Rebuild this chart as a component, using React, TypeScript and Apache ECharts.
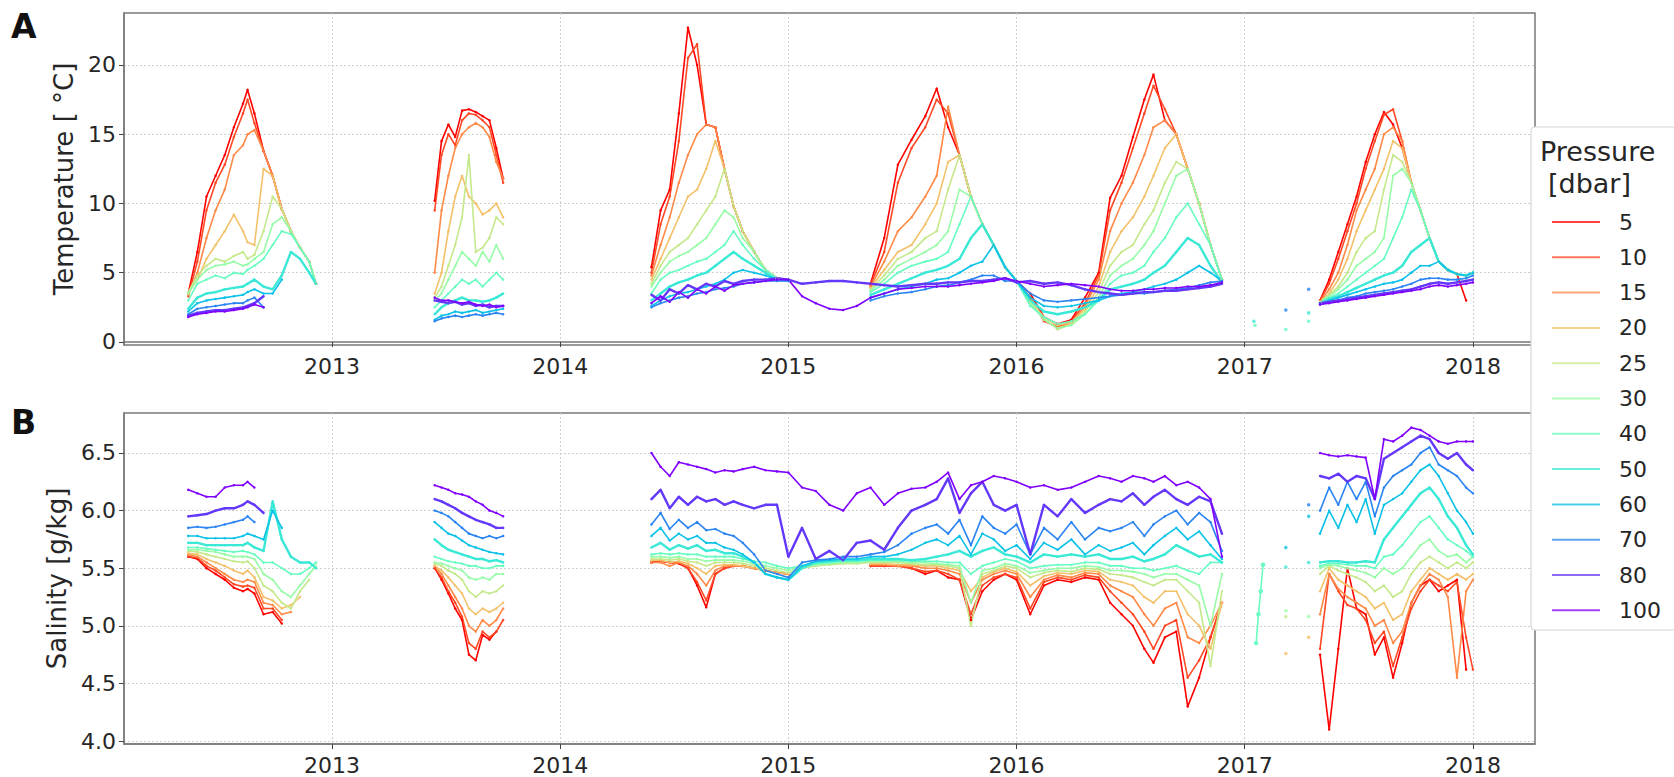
import React, { useEffect, useRef } from 'react';
import * as echarts from 'echarts';

const _ = null;
const FONT = 'DejaVu Sans, sans-serif';

const PRESSURES = ['5', '10', '15', '20', '25', '30', '40', '50', '60', '70', '80', '100'];
const COLORS = ['#ff0000', '#ff4824', '#ff8a48', '#f3c16a', '#c5e88a', '#97fca7', '#68fcc1', '#3ae8d6', '#0bc1e8', '#2a84f2', '#6438fa', '#8000ff'];
const WIDTHS = [1.6, 1.6, 1.6, 1.6, 1.6, 1.6, 1.6, 2.4, 1.6, 1.6, 2.4, 1.6];
const YEAR_TICKS = [2013, 2014, 2015, 2016, 2017, 2018];
const TEMP_TICKS = [0, 5, 10, 15, 20];
const SAL_TICKS = [4.0, 4.5, 5.0, 5.5, 6.0, 6.5];

// deployment time grids (decimal years)
const TIMES_D1 = [2012.37, 2012.41, 2012.45, 2012.49, 2012.53, 2012.57, 2012.61, 2012.63, 2012.66, 2012.70, 2012.74, 2012.78, 2012.82, 2012.86, 2012.90, 2012.93];
const TIMES_D2 = [2013.45, 2013.48, 2013.51, 2013.54, 2013.57, 2013.60, 2013.63, 2013.66, 2013.69, 2013.72, 2013.75];
const TIMES_D3 = [
  2014.40, 2014.44, 2014.48, 2014.52, 2014.56, 2014.60, 2014.64, 2014.68, 2014.72, 2014.76,
  2014.80, 2014.85, 2014.90, 2014.95, 2015.00, 2015.06, 2015.12, 2015.18, 2015.24, 2015.30,
  2015.36, 2015.42, 2015.48, 2015.54, 2015.60, 2015.65, 2015.70, 2015.75, 2015.80, 2015.85,
  2015.90, 2015.95, 2016.00, 2016.06, 2016.12, 2016.18, 2016.24, 2016.30, 2016.36, 2016.41,
  2016.46, 2016.51, 2016.56, 2016.60, 2016.65, 2016.70, 2016.75, 2016.80, 2016.85, 2016.90];
const TIMES_D4 = [2017.33, 2017.37, 2017.41, 2017.45, 2017.49, 2017.53, 2017.57, 2017.61, 2017.65, 2017.69, 2017.73, 2017.77, 2017.81, 2017.85, 2017.89, 2017.93, 2017.97, 2018.00];

// ---------- Temperature [°C], rows = pressures 5..100 ----------
const TEMP_D1 = [
  [3.5, 6.5, 10.5, 12.0, 13.5, 15.5, 17.2, 18.2, 16.5, 13.8, 12.0, 9.6, 8.0, 6.8, 5.8, 4.2],
  [3.3, 5.8, 9.5, 11.5, 12.8, 14.8, 16.5, 17.5, 15.8, 13.8, 12.0, 9.6, 8.0, 6.8, 5.8, 4.2],
  [3.4, 5.0, 7.5, 9.5, 11.0, 13.5, 14.2, 15.0, 15.3, 13.8, 12.0, 9.6, 8.0, 6.8, 5.8, 4.2],
  [3.5, 4.5, 6.0, 7.0, 8.0, 9.2, 8.0, 7.2, 7.0, 12.5, 12.0, 9.6, 8.0, 6.8, 5.8, 4.2],
  [3.6, 4.8, 5.5, 6.0, 5.8, 6.2, 6.5, 6.0, 6.3, 8.0, 10.5, 9.6, 8.0, 6.8, 5.8, 4.2],
  [3.5, 4.5, 5.2, 5.5, 5.6, 5.8, 5.5, 5.6, 6.0, 6.5, 8.5, 9.0, 8.0, 6.8, 5.8, 4.2],
  [3.0, 4.2, 4.5, 4.8, 4.6, 5.0, 4.9, 5.2, 5.5, 6.0, 7.0, 8.0, 7.8, 6.8, 5.8, 4.2],
  [2.4, 3.2, 3.5, 3.6, 3.8, 3.9, 4.0, 4.2, 4.5, 4.0, 3.8, 4.8, 6.5, 6.0, 5.0, 4.2],
  [2.2, 2.8, 3.0, 3.1, 3.2, 3.3, 3.4, 3.6, 3.8, 3.5, 3.5, 4.5, _, _, _, _],
  [2.0, 2.4, 2.5, 2.6, 2.7, 2.8, 2.8, 3.0, 3.2, 2.5, _, _, _, _, _, _],
  [1.9, 2.1, 2.2, 2.3, 2.3, 2.4, 2.5, 2.6, 2.8, 3.3, _, _, _, _, _, _],
  [1.8, 2.0, 2.1, 2.2, 2.2, 2.3, 2.4, 2.5, 2.7, 2.5, _, _, _, _, _, _],
];
const TEMP_D2 = [
  [10.2, 14.5, 15.7, 14.8, 16.7, 16.8, 16.6, 16.3, 16.0, 14.0, 11.8],
  [9.5, 13.5, 15.0, 14.2, 16.0, 16.5, 16.4, 16.0, 15.5, 13.5, 11.5],
  [5.0, 9.5, 12.0, 14.0, 15.0, 15.5, 15.8, 15.5, 14.8, 13.0, 11.8],
  [3.5, 5.0, 8.0, 10.5, 12.0, 10.5, 10.0, 9.2, 9.5, 10.0, 9.0],
  [3.2, 4.0, 5.5, 7.0, 9.0, 13.5, 6.5, 6.8, 7.5, 9.0, 8.5],
  [3.0, 3.5, 4.5, 5.5, 6.5, 6.0, 5.5, 6.5, 5.8, 7.0, 6.0],
  [2.5, 3.0, 3.5, 4.0, 4.5, 4.2, 4.5, 4.0, 4.5, 5.0, 4.5],
  [2.0, 2.5, 2.8, 3.0, 3.2, 3.0, 3.0, 2.9, 3.0, 3.2, 3.5],
  [1.6, 1.9, 2.0, 2.2, 2.1, 2.2, 2.3, 2.1, 2.2, 2.3, 2.4],
  [1.5, 1.7, 1.8, 1.9, 1.8, 1.9, 2.0, 1.9, 2.0, 2.1, 2.0],
  [3.0, 2.9, 2.8, 2.9, 2.7, 2.8, 2.6, 2.7, 2.5, 2.6, 2.6],
  [3.2, 3.0, 3.0, 2.9, 2.8, 2.9, 2.7, 2.6, 2.7, 2.5, 2.6],
];
const TEMP_D3 = [
  [5.4, 9.5, 11.0, 16.5, 22.7, 20.0, 15.7, 15.5, 12.5, 9.8, 8.0, 6.5, 5.2, 4.6, 4.5, _, _, _, _, _,
    4.2, 7.5, 12.8, 14.6, 16.3, 18.3, 15.5, 13.5, 10.5, 8.5, 7.0, 5.4, 4.4, 3.5, 1.8, 1.3, 1.6, 3.2, 5.0, 10.4,
    12.0, 14.8, 17.5, 19.3, 16.0, 15.0, 12.5, 10.0, 7.0, 4.5],
  [5.0, 8.5, 10.5, 14.5, 20.5, 21.5, 15.7, 15.5, 12.5, 9.8, 8.0, 6.5, 5.2, 4.6, 4.5, _, _, _, _, _,
    4.1, 6.5, 11.5, 14.0, 15.5, 17.5, 16.5, 13.5, 10.5, 8.5, 7.0, 5.4, 4.4, 3.2, 1.5, 1.1, 1.5, 2.8, 4.8, 9.5,
    11.5, 14.0, 16.5, 18.5, 16.8, 15.0, 12.5, 10.0, 7.0, 4.5],
  [4.8, 7.0, 9.0, 11.5, 13.5, 15.0, 15.7, 15.5, 12.5, 9.8, 8.0, 6.5, 5.2, 4.6, 4.5, _, _, _, _, _,
    4.0, 5.8, 8.0, 9.0, 10.5, 12.0, 17.0, 13.5, 10.5, 8.5, 7.0, 5.4, 4.4, 3.0, 1.6, 1.0, 1.4, 2.6, 4.5, 8.0,
    10.0, 11.5, 13.5, 15.5, 16.0, 15.0, 12.5, 10.0, 7.0, 4.5],
  [4.5, 6.0, 7.5, 9.0, 10.5, 11.0, 12.5, 14.5, 12.5, 9.8, 8.0, 6.5, 5.2, 4.6, 4.5, _, _, _, _, _,
    3.9, 5.2, 6.5, 7.0, 8.5, 10.0, 13.0, 13.5, 10.5, 8.5, 7.0, 5.4, 4.4, 3.0, 1.8, 1.2, 1.4, 2.4, 4.0, 6.5,
    8.0, 9.0, 10.5, 12.0, 14.0, 15.0, 12.5, 10.0, 7.0, 4.5],
  [4.2, 5.5, 6.5, 7.0, 7.5, 8.5, 9.5, 10.5, 12.5, 9.8, 8.0, 6.5, 5.2, 4.6, 4.5, _, _, _, _, _,
    3.8, 4.8, 6.0, 6.5, 7.5, 8.0, 11.0, 13.5, 10.5, 8.5, 7.0, 5.4, 4.4, 2.9, 1.7, 0.9, 1.3, 2.2, 3.6, 5.5,
    6.5, 7.0, 8.5, 9.5, 11.5, 13.0, 12.5, 10.0, 7.0, 4.5],
  [4.0, 5.0, 5.8, 6.2, 6.5, 7.0, 7.5, 8.5, 9.5, 9.0, 7.5, 6.5, 5.2, 4.6, 4.5, _, _, _, _, _,
    3.7, 4.5, 5.5, 6.0, 6.5, 7.0, 8.0, 11.0, 10.5, 8.5, 7.0, 5.4, 4.4, 2.8, 1.6, 1.0, 1.2, 2.0, 3.2, 4.8,
    5.5, 6.0, 7.0, 8.0, 10.0, 12.0, 12.5, 10.0, 7.0, 4.5],
  [3.5, 4.5, 5.0, 5.2, 5.5, 5.8, 6.0, 6.5, 7.0, 8.0, 7.0, 6.0, 5.2, 4.6, 4.5, _, _, _, _, _,
    3.6, 4.2, 5.0, 5.5, 5.8, 6.0, 6.5, 8.5, 10.5, 8.5, 7.0, 5.4, 4.4, 2.6, 1.8, 1.3, 1.5, 2.0, 3.0, 4.2,
    4.8, 5.0, 5.5, 6.5, 7.5, 9.0, 10.0, 8.5, 7.0, 4.5],
  [3.0, 3.5, 4.0, 4.3, 4.5, 4.8, 5.0, 5.5, 6.0, 6.5, 6.0, 5.5, 5.0, 4.5, 4.5, _, _, _, _, _,
    3.4, 3.8, 4.2, 4.6, 5.0, 5.2, 5.5, 6.0, 7.5, 8.5, 7.0, 5.4, 4.4, 3.0, 2.2, 2.0, 2.2, 2.5, 3.0, 3.8,
    4.0, 4.2, 4.5, 5.0, 5.5, 6.5, 7.5, 7.0, 5.5, 4.3],
  [2.6, 3.0, 3.3, 3.5, 3.6, 3.8, 4.0, 4.2, 4.5, 5.0, 5.2, 5.0, 4.8, 4.5, 4.4, _, _, _, _, _,
    3.2, 3.5, 3.8, 4.0, 4.2, 4.5, 4.6, 5.0, 5.5, 5.8, 7.0, 5.4, 4.4, 3.2, 2.6, 2.5, 2.6, 2.8, 3.0, 3.3,
    3.5, 3.6, 3.8, 4.0, 4.2, 4.5, 5.0, 5.5, 5.0, 4.4],
  [2.5, 2.8, 3.0, 3.2, 3.3, 3.5, 3.6, 3.8, 3.9, 4.0, 4.2, 4.3, 4.4, 4.4, 4.4, _, _, _, _, _,
    3.0, 3.3, 3.5, 3.6, 3.8, 4.0, 4.1, 4.3, 4.5, 4.8, 4.8, 4.4, 4.4, 3.5, 3.0, 2.9, 3.0, 3.1, 3.2, 3.3,
    3.4, 3.5, 3.5, 3.6, 3.7, 3.8, 3.9, 4.1, 4.3, 4.4],
  [3.4, 3.0, 3.8, 3.5, 4.1, 3.8, 4.2, 4.0, 4.4, 4.2, 4.4, 4.5, 4.5, 4.6, 4.5, 4.2, 4.3, 4.4, 4.4, 4.3,
    4.2, 4.1, 4.0, 4.1, 4.2, 4.2, 4.3, 4.3, 4.4, 4.4, 4.5, 4.6, 4.3, 4.4, 4.2, 4.3, 4.1, 3.8, 3.6, 3.5,
    3.4, 3.5, 3.6, 3.6, 3.7, 3.7, 3.8, 3.9, 4.0, 4.2],
  [2.8, 3.3, 2.9, 3.6, 3.2, 3.8, 3.5, 4.0, 3.7, 4.1, 4.2, 4.3, 4.4, 4.5, 4.5, 3.3, 2.8, 2.4, 2.3, 2.6,
    3.2, 3.5, 3.8, 3.9, 4.0, 4.0, 4.0, 4.1, 4.2, 4.3, 4.4, 4.6, 4.4, 4.2, 4.0, 4.1, 4.2, 4.1, 4.0, 3.8,
    3.7, 3.7, 3.8, 3.8, 3.9, 3.9, 4.0, 4.0, 4.1, 4.3],
];
const TEMP_D4 = [
  [3.0, 4.5, 6.5, 8.5, 10.5, 13.0, 15.0, 16.6, 15.7, 14.0, 11.5, 9.5, 7.5, 5.8, 5.2, 4.9, 3.0, _],
  [3.0, 4.2, 6.0, 8.0, 10.0, 12.5, 14.5, 16.4, 16.8, 14.5, 11.5, 9.5, 7.5, 5.8, 5.2, 4.9, 4.8, 5.0],
  [2.9, 3.8, 5.0, 7.0, 9.5, 11.0, 12.5, 15.0, 15.5, 14.5, 11.5, 9.5, 7.5, 5.8, 5.2, 4.9, 4.8, 5.0],
  [2.9, 3.5, 4.5, 6.0, 8.0, 9.5, 11.0, 12.5, 14.5, 14.0, 11.5, 9.5, 7.5, 5.8, 5.2, 4.9, 4.8, 5.0],
  [2.9, 3.4, 4.0, 5.0, 6.5, 7.5, 8.0, 11.0, 13.5, 13.0, 11.5, 9.5, 7.5, 5.8, 5.2, 4.9, 4.8, 5.0],
  [2.9, 3.3, 3.8, 4.5, 5.5, 6.0, 6.5, 7.5, 12.0, 12.5, 11.5, 9.5, 7.5, 5.8, 5.2, 4.9, 4.8, 5.0],
  [2.8, 3.2, 3.5, 4.0, 4.5, 5.0, 5.5, 6.0, 7.5, 9.0, 11.0, 9.5, 7.5, 5.8, 5.2, 4.9, 4.8, 5.0],
  [2.8, 3.1, 3.3, 3.6, 3.9, 4.2, 4.5, 4.8, 5.0, 5.5, 6.5, 7.0, 7.5, 5.8, 5.2, 4.9, 4.8, 5.0],
  [2.7, 3.0, 3.2, 3.4, 3.6, 3.8, 4.0, 4.2, 4.3, 4.5, 5.0, 5.5, 5.5, 5.8, 5.2, 4.9, 4.8, 5.0],
  [2.7, 2.9, 3.0, 3.2, 3.3, 3.5, 3.6, 3.7, 3.8, 4.0, 4.2, 4.5, 4.6, 4.6, 4.5, 4.5, 4.6, 4.8],
  [2.8, 2.9, 3.0, 3.1, 3.2, 3.3, 3.4, 3.5, 3.6, 3.7, 3.8, 4.0, 4.2, 4.3, 4.2, 4.3, 4.4, 4.5],
  [2.7, 2.8, 2.9, 3.0, 3.1, 3.2, 3.3, 3.4, 3.5, 3.6, 3.7, 3.8, 4.0, 4.1, 4.0, 4.1, 4.2, 4.3],
];
// isolated early-2017 readings: [time, value, pressure index]
const TEMP_SPARSE = [[2017.04, 1.5, 7], [2017.045, 1.2, 6], [2017.18, 2.3, 9], [2017.18, 0.9, 6], [2017.28, 3.8, 9], [2017.28, 2.1, 7], [2017.28, 1.5, 6]];

// ---------- Salinity [g/kg] ----------
const SAL_D1 = [
  [5.60, 5.58, 5.50, 5.45, 5.40, 5.33, 5.30, 5.32, 5.28, 5.10, 5.12, 5.02, _, _, _, _],
  [5.60, 5.59, 5.52, 5.48, 5.42, 5.36, 5.34, 5.35, 5.33, 5.15, 5.15, 5.05, _, _, _, _],
  [5.62, 5.60, 5.55, 5.50, 5.45, 5.40, 5.38, 5.40, 5.38, 5.20, 5.18, 5.10, 5.12, _, _, _],
  [5.63, 5.62, 5.58, 5.55, 5.52, 5.48, 5.45, 5.48, 5.42, 5.25, 5.22, 5.15, 5.18, 5.25, _, _],
  [5.65, 5.64, 5.62, 5.60, 5.58, 5.56, 5.55, 5.56, 5.50, 5.35, 5.30, 5.20, 5.15, 5.30, 5.40, _],
  [5.66, 5.66, 5.65, 5.64, 5.62, 5.60, 5.60, 5.60, 5.58, 5.45, 5.40, 5.30, 5.25, 5.35, 5.45, 5.52],
  [5.68, 5.68, 5.67, 5.66, 5.65, 5.64, 5.65, 5.64, 5.62, 5.55, 5.55, 5.50, 5.45, 5.45, 5.50, 5.55],
  [5.72, 5.72, 5.70, 5.70, 5.70, 5.70, 5.70, 5.72, 5.68, 5.65, 6.08, 5.75, 5.60, 5.55, 5.55, 5.50],
  [5.78, 5.78, 5.76, 5.76, 5.76, 5.76, 5.78, 5.80, 5.78, 5.75, 6.00, 5.85, _, _, _, _],
  [5.85, 5.86, 5.85, 5.86, 5.88, 5.90, 5.92, 5.95, 5.90, _, _, _, _, _, _, _],
  [5.95, 5.96, 5.97, 6.00, 6.02, 6.02, 6.05, 6.08, 6.05, 5.98, _, _, _, _, _, _],
  [6.18, 6.15, 6.12, 6.12, 6.20, 6.22, 6.22, 6.25, 6.20, _, _, _, _, _, _, _],
];
const SAL_D2 = [
  [5.50, 5.40, 5.28, 5.15, 5.05, 4.75, 4.70, 4.92, 4.88, 4.95, _],
  [5.50, 5.42, 5.30, 5.20, 5.08, 4.85, 4.80, 4.95, 4.90, 4.95, 5.05],
  [5.52, 5.45, 5.35, 5.25, 5.15, 5.00, 4.95, 5.05, 5.00, 5.05, 5.15],
  [5.52, 5.48, 5.42, 5.35, 5.28, 5.15, 5.10, 5.15, 5.12, 5.15, 5.20],
  [5.54, 5.52, 5.48, 5.45, 5.40, 5.30, 5.25, 5.30, 5.28, 5.30, 5.35],
  [5.55, 5.54, 5.52, 5.50, 5.48, 5.42, 5.40, 5.42, 5.40, 5.45, 5.45],
  [5.60, 5.58, 5.56, 5.55, 5.54, 5.52, 5.52, 5.50, 5.50, 5.52, 5.52],
  [5.75, 5.70, 5.66, 5.64, 5.62, 5.60, 5.58, 5.58, 5.56, 5.57, 5.55],
  [5.90, 5.85, 5.80, 5.78, 5.74, 5.70, 5.68, 5.66, 5.64, 5.63, 5.62],
  [6.00, 5.98, 5.95, 5.90, 5.85, 5.80, 5.78, 5.76, 5.78, 5.76, 5.78],
  [6.10, 6.08, 6.05, 6.02, 5.98, 5.95, 5.92, 5.90, 5.88, 5.85, 5.85],
  [6.22, 6.20, 6.18, 6.15, 6.14, 6.12, 6.08, 6.05, 6.00, 5.98, 5.95],
];
const SAL_D3 = [
  [5.55, 5.56, 5.55, 5.54, 5.50, 5.35, 5.16, 5.45, 5.50, 5.52, 5.52, 5.50, 5.48, 5.46, 5.45, _, _, _, _, _,
    5.52, 5.52, 5.52, 5.50, 5.45, 5.48, 5.42, 5.40, 5.05, 5.30, 5.40, 5.45, 5.40, 5.10, 5.35, 5.40, 5.38, 5.42, 5.40, 5.20,
    5.10, 5.00, 4.80, 4.68, 4.90, 4.95, 4.30, 4.55, 4.90, 5.20],
  [5.55, 5.56, 5.55, 5.55, 5.50, 5.38, 5.22, 5.45, 5.50, 5.52, 5.52, 5.50, 5.48, 5.46, 5.45, _, _, _, _, _,
    5.52, 5.52, 5.52, 5.50, 5.47, 5.48, 5.45, 5.40, 5.10, 5.35, 5.42, 5.45, 5.42, 5.15, 5.38, 5.42, 5.40, 5.44, 5.42, 5.30,
    5.20, 5.10, 4.95, 4.80, 5.00, 5.05, 4.55, 4.70, 4.90, 5.20],
  [5.55, 5.55, 5.52, 5.55, 5.52, 5.45, 5.35, 5.48, 5.52, 5.52, 5.52, 5.50, 5.48, 5.46, 5.45, _, _, _, _, _,
    5.53, 5.53, 5.52, 5.52, 5.50, 5.50, 5.48, 5.45, 5.20, 5.40, 5.45, 5.48, 5.45, 5.25, 5.40, 5.44, 5.42, 5.46, 5.45, 5.35,
    5.30, 5.25, 5.10, 5.00, 5.15, 5.20, 4.90, 4.85, 5.00, 5.20],
  [5.57, 5.57, 5.55, 5.56, 5.54, 5.50, 5.45, 5.52, 5.53, 5.53, 5.52, 5.50, 5.48, 5.46, 5.45, _, _, _, _, _,
    5.54, 5.54, 5.53, 5.53, 5.52, 5.52, 5.50, 5.48, 5.30, 5.42, 5.47, 5.50, 5.47, 5.35, 5.43, 5.46, 5.45, 5.48, 5.47, 5.40,
    5.38, 5.35, 5.25, 5.20, 5.30, 5.30, 5.10, 5.00, 4.80, 5.20],
  [5.58, 5.58, 5.57, 5.58, 5.56, 5.55, 5.52, 5.55, 5.55, 5.55, 5.54, 5.52, 5.50, 5.48, 5.46, 5.50, 5.52, 5.53, 5.54, 5.54,
    5.55, 5.55, 5.55, 5.54, 5.53, 5.53, 5.52, 5.50, 5.00, 5.45, 5.48, 5.52, 5.50, 5.42, 5.46, 5.48, 5.47, 5.50, 5.49, 5.45,
    5.44, 5.42, 5.38, 5.35, 5.40, 5.40, 5.30, 5.20, 4.65, 5.30],
  [5.60, 5.60, 5.59, 5.60, 5.58, 5.58, 5.56, 5.57, 5.57, 5.57, 5.56, 5.54, 5.52, 5.50, 5.48, 5.51, 5.53, 5.54, 5.55, 5.55,
    5.56, 5.56, 5.56, 5.55, 5.55, 5.54, 5.53, 5.52, 5.20, 5.48, 5.50, 5.54, 5.52, 5.46, 5.48, 5.50, 5.50, 5.52, 5.51, 5.48,
    5.48, 5.47, 5.45, 5.42, 5.45, 5.45, 5.40, 5.35, 5.00, 5.45],
  [5.62, 5.63, 5.62, 5.63, 5.62, 5.62, 5.60, 5.60, 5.60, 5.60, 5.58, 5.56, 5.55, 5.52, 5.50, 5.52, 5.54, 5.55, 5.56, 5.56,
    5.57, 5.57, 5.57, 5.56, 5.56, 5.56, 5.55, 5.55, 5.45, 5.52, 5.55, 5.58, 5.56, 5.50, 5.52, 5.53, 5.53, 5.55, 5.55, 5.52,
    5.52, 5.50, 5.50, 5.48, 5.50, 5.52, 5.48, 5.45, 5.55, 5.55],
  [5.68, 5.72, 5.66, 5.70, 5.67, 5.70, 5.65, 5.66, 5.63, 5.63, 5.60, 5.55, 5.45, 5.42, 5.40, 5.50, 5.55, 5.56, 5.57, 5.57,
    5.58, 5.58, 5.58, 5.57, 5.58, 5.60, 5.62, 5.65, 5.60, 5.65, 5.68, 5.62, 5.60, 5.55, 5.62, 5.60, 5.62, 5.60, 5.62, 5.58,
    5.58, 5.60, 5.56, 5.58, 5.62, 5.70, 5.65, 5.60, 5.62, 5.55],
  [5.78, 5.85, 5.74, 5.80, 5.75, 5.78, 5.72, 5.72, 5.68, 5.66, 5.62, 5.55, 5.45, 5.42, 5.40, 5.52, 5.56, 5.57, 5.58, 5.58,
    5.60, 5.60, 5.62, 5.66, 5.72, 5.75, 5.70, 5.78, 5.62, 5.80, 5.75, 5.65, 5.70, 5.58, 5.72, 5.66, 5.75, 5.62, 5.70, 5.65,
    5.68, 5.72, 5.62, 5.70, 5.78, 5.85, 5.75, 5.82, 5.70, 5.58],
  [5.88, 5.98, 5.84, 5.92, 5.85, 5.90, 5.83, 5.84, 5.80, 5.78, 5.72, 5.62, 5.48, 5.45, 5.42, 5.55, 5.57, 5.58, 5.60, 5.60,
    5.62, 5.64, 5.70, 5.80, 5.85, 5.88, 5.80, 5.92, 5.70, 5.95, 5.85, 5.80, 5.88, 5.62, 5.85, 5.75, 5.90, 5.75, 5.85, 5.82,
    5.85, 5.90, 5.78, 5.88, 5.95, 6.00, 5.88, 5.98, 5.90, 5.65],
  [6.10, 6.18, 6.02, 6.12, 6.05, 6.12, 6.08, 6.10, 6.05, 6.08, 6.05, 6.02, 6.05, 6.05, 5.60, 5.85, 5.58, 5.65, 5.57, 5.72,
    5.74, 5.66, 5.85, 6.00, 6.05, 6.10, 6.28, 5.98, 6.15, 6.25, 6.05, 6.00, 6.05, 5.62, 6.05, 5.95, 6.10, 5.98, 6.05, 6.10,
    6.08, 6.15, 6.05, 6.12, 6.18, 6.10, 6.05, 6.12, 6.08, 5.80],
  [6.50, 6.38, 6.30, 6.42, 6.40, 6.38, 6.36, 6.33, 6.35, 6.34, 6.36, 6.38, 6.35, 6.34, 6.33, 6.20, 6.17, 6.05, 6.00, 6.15,
    6.20, 6.05, 6.15, 6.19, 6.20, 6.25, 6.33, 6.10, 6.22, 6.25, 6.30, 6.28, 6.25, 6.20, 6.22, 6.18, 6.20, 6.25, 6.30, 6.28,
    6.25, 6.30, 6.28, 6.25, 6.30, 6.22, 6.25, 6.20, 6.10, 5.60],
];
const SAL_D4 = [
  [4.75, 4.10, 4.80, 5.50, 5.15, 5.10, 4.75, 4.90, 4.55, 4.85, 5.20, 5.35, 5.40, 5.30, 5.35, 5.40, 4.62, _],
  [4.80, 5.45, 5.30, 5.18, 5.15, 5.05, 4.85, 4.95, 4.65, 4.90, 5.15, 5.30, 5.40, 5.35, 5.30, 5.38, 4.90, 4.62],
  [5.10, 5.45, 5.32, 5.25, 5.20, 5.15, 5.00, 5.05, 4.85, 4.95, 5.20, 5.35, 5.45, 5.40, 5.25, 4.55, 5.30, 5.40],
  [5.30, 5.50, 5.40, 5.35, 5.30, 5.25, 5.15, 5.20, 5.05, 5.10, 5.30, 5.40, 5.50, 5.45, 5.40, 5.45, 5.40, 5.45],
  [5.45, 5.52, 5.48, 5.45, 5.42, 5.38, 5.30, 5.35, 5.25, 5.30, 5.45, 5.55, 5.60, 5.55, 5.50, 5.55, 5.50, 5.55],
  [5.50, 5.53, 5.52, 5.50, 5.48, 5.46, 5.42, 5.50, 5.45, 5.50, 5.60, 5.70, 5.75, 5.65, 5.60, 5.62, 5.55, 5.60],
  [5.52, 5.54, 5.54, 5.53, 5.52, 5.52, 5.50, 5.60, 5.62, 5.70, 5.80, 5.90, 5.95, 5.85, 5.75, 5.70, 5.65, 5.60],
  [5.55, 5.56, 5.56, 5.55, 5.55, 5.56, 5.55, 5.75, 5.85, 5.95, 6.05, 6.15, 6.20, 6.10, 5.95, 5.85, 5.70, 5.62],
  [5.80, 6.00, 5.85, 6.05, 5.90, 6.10, 5.80, 6.05, 6.10, 6.15, 6.25, 6.35, 6.40, 6.30, 6.15, 6.00, 5.90, 5.80],
  [6.00, 6.20, 6.05, 6.25, 6.10, 6.25, 5.95, 6.20, 6.30, 6.35, 6.40, 6.50, 6.55, 6.40, 6.35, 6.30, 6.20, 6.15],
  [6.30, 6.28, 6.32, 6.25, 6.30, 6.28, 6.10, 6.45, 6.50, 6.55, 6.60, 6.65, 6.62, 6.50, 6.45, 6.50, 6.40, 6.35],
  [6.50, 6.48, 6.47, 6.48, 6.47, 6.46, 6.10, 6.62, 6.60, 6.65, 6.72, 6.70, 6.65, 6.60, 6.58, 6.60, 6.60, 6.60],
];
const SAL_SPARSE = [[2017.18, 5.68, 8], [2017.18, 5.51, 7], [2017.18, 5.13, 5], [2017.18, 5.08, 4], [2017.18, 4.76, 3], [2017.28, 6.05, 9], [2017.28, 5.95, 8], [2017.28, 5.55, 7], [2017.28, 5.08, 5], [2017.28, 4.9, 3]];
// short 40 dbar salinity segment in early 2017
const SAL_SEG_T = [2017.05, 2017.06, 2017.07, 2017.08];
const SAL_SEG_V = [4.85, 5.10, 5.30, 5.53];

const TIMES = [TIMES_D1, TIMES_D2, TIMES_D3, TIMES_D4];
const TEMP = [TEMP_D1, TEMP_D2, TEMP_D3, TEMP_D4];
const SAL = [SAL_D1, SAL_D2, SAL_D3, SAL_D4];

function buildLine(rowsByDeployment: (number | null)[][][], idx: number) {
  const out: any[] = [];
  TIMES.forEach((ts, d) => {
    ts.forEach((t, k) => {
      const v = rowsByDeployment[d][idx][k];
      out.push([t, v === null || v === undefined ? '-' : v]);
    });
    out.push([ts[ts.length - 1] + 0.005, '-']);
  });
  return out;
}

const X_MIN = 2012.0885;
const X_MAX = 2018.272;
const AXIS_COLOR = '#7a7a7a';
const TEXT_COLOR = '#262626';
const GRID_LINE = { show: true, lineStyle: { color: '#cfcfcf', type: [2, 2] as any, width: 1 } };

function xAxis(gridIndex: number) {
  return {
    type: 'value', gridIndex, min: X_MIN, max: X_MAX,
    axisLine: { show: true, lineStyle: { color: AXIS_COLOR, width: 1.5 } },
    axisTick: { show: true, inside: false, length: 5, customValues: YEAR_TICKS, lineStyle: { color: '#444' } },
    axisLabel: { show: true, customValues: YEAR_TICKS, formatter: (v: number) => String(Math.round(v)), fontSize: 22, color: TEXT_COLOR, fontFamily: FONT, margin: 10 },
    splitLine: GRID_LINE,
  };
}

function yAxis(gridIndex: number, min: number, max: number, ticks: number[], name: string, gap: number, dec: number) {
  return {
    type: 'value', gridIndex, min, max, name, nameLocation: 'middle', nameGap: gap,
    nameTextStyle: { fontSize: 26, color: TEXT_COLOR, fontFamily: FONT },
    axisLine: { show: true, lineStyle: { color: AXIS_COLOR, width: 1.5 } },
    axisTick: { show: true, inside: false, length: 5, customValues: ticks, lineStyle: { color: '#444' } },
    axisLabel: { show: true, customValues: ticks, formatter: (v: number) => v.toFixed(dec), fontSize: 22, color: TEXT_COLOR, fontFamily: FONT, margin: 8 },
    splitLine: GRID_LINE,
  };
}

export default function App() {
  const ref = useRef<HTMLDivElement>(null);
  useEffect(() => {
    if (!ref.current) return;
    const chart = echarts.init(ref.current, undefined, { renderer: 'svg' });
    const series: any[] = [];
    PRESSURES.forEach((p, i) => {
      series.push({
        name: p, type: 'line', xAxisIndex: 0, yAxisIndex: 0, data: buildLine(TEMP as any, i),
        showSymbol: true, symbol: 'circle', symbolSize: 2.5, connectNulls: false,
        lineStyle: { color: COLORS[i], width: WIDTHS[i] }, itemStyle: { color: COLORS[i] }, z: 2,
      });
    });
    PRESSURES.forEach((p, i) => {
      series.push({
        name: p, type: 'line', xAxisIndex: 1, yAxisIndex: 1, data: buildLine(SAL as any, i),
        showSymbol: true, symbol: 'circle', symbolSize: 2.5, connectNulls: false,
        lineStyle: { color: COLORS[i], width: WIDTHS[i] }, itemStyle: { color: COLORS[i] }, z: 2,
      });
    });
    series.push({
      name: 'sparseT', type: 'scatter', xAxisIndex: 0, yAxisIndex: 0, symbolSize: 3.5,
      data: TEMP_SPARSE.map((d) => ({ value: [d[0], d[1]], itemStyle: { color: COLORS[d[2]] } })), z: 3,
    });
    series.push({
      name: 'sparseS', type: 'scatter', xAxisIndex: 1, yAxisIndex: 1, symbolSize: 3.5,
      data: SAL_SPARSE.map((d) => ({ value: [d[0], d[1]], itemStyle: { color: COLORS[d[2]] } })), z: 3,
    });
    series.push({
      name: 'segS', type: 'line', xAxisIndex: 1, yAxisIndex: 1, showSymbol: true, symbolSize: 2.5,
      data: SAL_SEG_T.map((t, k) => [t, SAL_SEG_V[k]]),
      lineStyle: { color: COLORS[6], width: 1.6 }, itemStyle: { color: COLORS[6] }, z: 3,
    });

    chart.setOption({
      animation: false,
      backgroundColor: '#ffffff',
      grid: [
        { left: 124, top: 13, width: 1411, height: 332, show: true, borderColor: AXIS_COLOR, borderWidth: 1.5, backgroundColor: 'transparent' },
        { left: 124, top: 413, width: 1411, height: 331, show: true, borderColor: AXIS_COLOR, borderWidth: 1.5, backgroundColor: 'transparent' },
      ],
      xAxis: [xAxis(0), xAxis(1)],
      yAxis: [
        yAxis(0, -0.22, 23.75, TEMP_TICKS, 'Temperature [ °C]', 46, 0),
        yAxis(1, 3.974, 6.847, SAL_TICKS, 'Salinity [g/kg]', 54, 1),
      ],
      legend: {
        data: PRESSURES, orient: 'vertical', left: 1547, top: 206, itemWidth: 48, itemHeight: 2, itemGap: 13.3,
        icon: 'rect', selectedMode: false, z: 30,
        itemStyle: { opacity: 0.75 },
        textStyle: { fontSize: 22, lineHeight: 22, color: TEXT_COLOR, fontFamily: FONT, padding: [0, 0, 0, 14] },
      },
      graphic: [
        { type: 'rect', z: 25, shape: { x: 1531, y: 127, width: 160, height: 503, r: 4 }, style: { fill: '#ffffff', stroke: '#d6d6d6', lineWidth: 1.2 } },
        { type: 'text', z: 26, x: 1540, y: 138, style: { text: 'Pressure', fontSize: 27, fontFamily: FONT, fill: TEXT_COLOR } },
        { type: 'text', z: 26, x: 1548, y: 170, style: { text: '[dbar]', fontSize: 27, fontFamily: FONT, fill: TEXT_COLOR } },
        { type: 'text', z: 26, x: 11, y: 10, style: { text: 'A', fontSize: 33, fontWeight: 'bold', fontFamily: FONT, fill: '#111' } },
        { type: 'text', z: 26, x: 11, y: 406, style: { text: 'B', fontSize: 33, fontWeight: 'bold', fontFamily: FONT, fill: '#111' } },
      ],
      series,
    });
    return () => chart.dispose();
  }, []);
  return <div ref={ref} style={{ position: 'fixed', left: 0, top: 0, width: 1674, height: 777, background: '#fff' }} />;
}
